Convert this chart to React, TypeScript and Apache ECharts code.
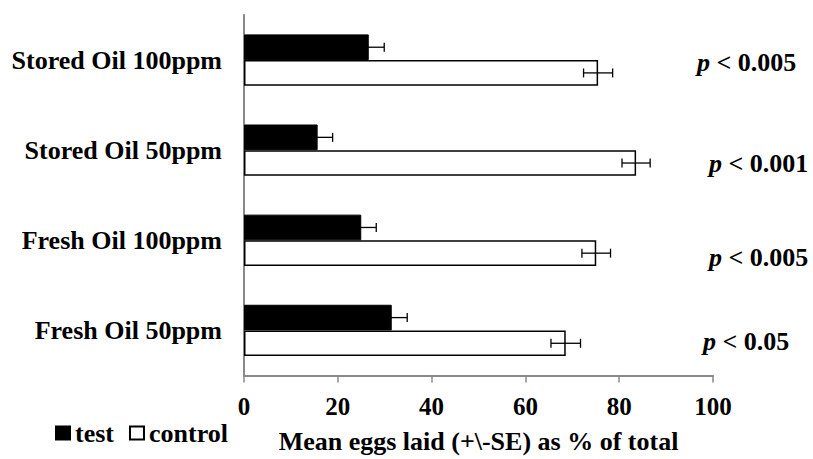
import React, { useEffect, useRef } from "react";
import * as echarts from "echarts";

const categories = ["Stored Oil 100ppm", "Stored Oil 50ppm", "Fresh Oil 100ppm", "Fresh Oil 50ppm"];
const testValues = [26.6, 15.7, 25.0, 31.5];
const testSE = [3.3, 3.2, 3.2, 3.3];
const controlValues = [75.5, 83.6, 75.1, 68.6];
const controlSE = [3.1, 3.0, 3.05, 3.15];
const pLabels = ["< 0.005", "< 0.001", "< 0.005", "< 0.05"];
const xTicks = [0, 20, 40, 60, 80, 100];

const FONT = "Liberation Serif";
const GAP = 0.43;

function errorSeries(values: number[], se: number[], which: number) {
  return {
    type: "custom",
    silent: true,
    z: 10,
    data: values.map((v, i) => [v, i, se[i]]),
    encode: { x: 0, y: 1 },
    renderItem: (params: any, api: any) => {
      const v = api.value(0);
      const idx = api.value(1);
      const s = api.value(2);
      const c = api.coord([v, idx]);
      const band = api.size([0, 1])[1];
      const barH = (band * (1 - GAP)) / 2;
      const yc = c[1] + (which === 0 ? -barH / 2 : barH / 2);
      const lo = api.coord([v - s, idx])[0];
      const hi = api.coord([v + s, idx])[0];
      const cap = 4.5;
      const style = { stroke: "#000", lineWidth: 1.3 };
      return {
        type: "group",
        children: [
          { type: "line", shape: { x1: lo, y1: yc, x2: hi, y2: yc }, style },
          { type: "line", shape: { x1: lo, y1: yc - cap, x2: lo, y2: yc + cap }, style },
          { type: "line", shape: { x1: hi, y1: yc - cap, x2: hi, y2: yc + cap }, style },
        ],
      };
    },
  };
}

export default function App() {
  const ref = useRef<HTMLDivElement>(null);
  useEffect(() => {
    if (!ref.current) return;
    const chart = echarts.init(ref.current, null, { renderer: "svg" });
    const pY = [62.5, 163, 257.5, 341.5];
    const pX = [697, 709, 709, 703];
    chart.setOption({
      animation: false,
      backgroundColor: "#fff",
      textStyle: { fontFamily: FONT },
      grid: { left: 244, right: 100, top: 15, bottom: 78, containLabel: false },
      legend: {
        left: 55,
        top: 420,
        padding: 0,
        itemWidth: 14,
        itemHeight: 13,
        itemGap: 15,
        icon: "rect",
        data: ["test", "control"],
        textStyle: { fontFamily: FONT, fontSize: 26, fontWeight: "bold", color: "#000" },
      },
      xAxis: {
        type: "value",
        min: 0,
        max: 100,
        interval: 20,
        splitLine: { show: false },
        axisLine: { show: true, lineStyle: { color: "#898989", width: 2 } },
        axisTick: { show: true, length: 7, lineStyle: { color: "#898989", width: 1.5 } },
        axisLabel: {
          margin: 18,
          fontFamily: FONT,
          fontSize: 25,
          fontWeight: "bold",
          color: "#000",
          formatter: (v: number) => (xTicks.includes(v) ? String(v) : ""),
        },
        name: "Mean eggs laid (+\\-SE) as % of total",
        nameLocation: "middle",
        nameGap: 52.5,
        nameTextStyle: { fontFamily: FONT, fontSize: 26, fontWeight: "bold", color: "#000" },
      },
      yAxis: {
        type: "category",
        inverse: true,
        data: categories,
        axisLine: { show: true, lineStyle: { color: "#898989", width: 2 } },
        axisTick: { show: false },
        axisLabel: {
          margin: 22,
          fontFamily: FONT,
          fontSize: 26,
          fontWeight: "bold",
          color: "#000",
        },
      },
      series: [
        {
          name: "test",
          type: "bar",
          data: testValues,
          barCategoryGap: "43%",
          barGap: "0%",
          itemStyle: { color: "#000", borderColor: "#000", borderWidth: 1 },
        },
        {
          name: "control",
          type: "bar",
          data: controlValues,
          barCategoryGap: "43%",
          barGap: "0%",
          itemStyle: { color: "#fff", borderColor: "#000", borderWidth: 1.5 },
        },
        errorSeries(testValues, testSE, 0),
        errorSeries(controlValues, controlSE, 1),
      ],
      graphic: pLabels.map((t, i) => ({
        type: "text",
        x: pX[i],
        y: pY[i],
        style: {
          text: "{p|p} " + t,
          rich: {
            p: { fontFamily: FONT, fontSize: 26, fontWeight: "bold", fontStyle: "italic", fill: "#000" },
          },
          fontFamily: FONT,
          fontSize: 26,
          fontWeight: "bold",
          fill: "#000",
          align: "left",
          verticalAlign: "middle",
        },
      })),
    });
    return () => chart.dispose();
  }, []);
  return <div ref={ref} style={{ width: 813, height: 459, position: "absolute", left: 0, top: 0 }} />;
}
